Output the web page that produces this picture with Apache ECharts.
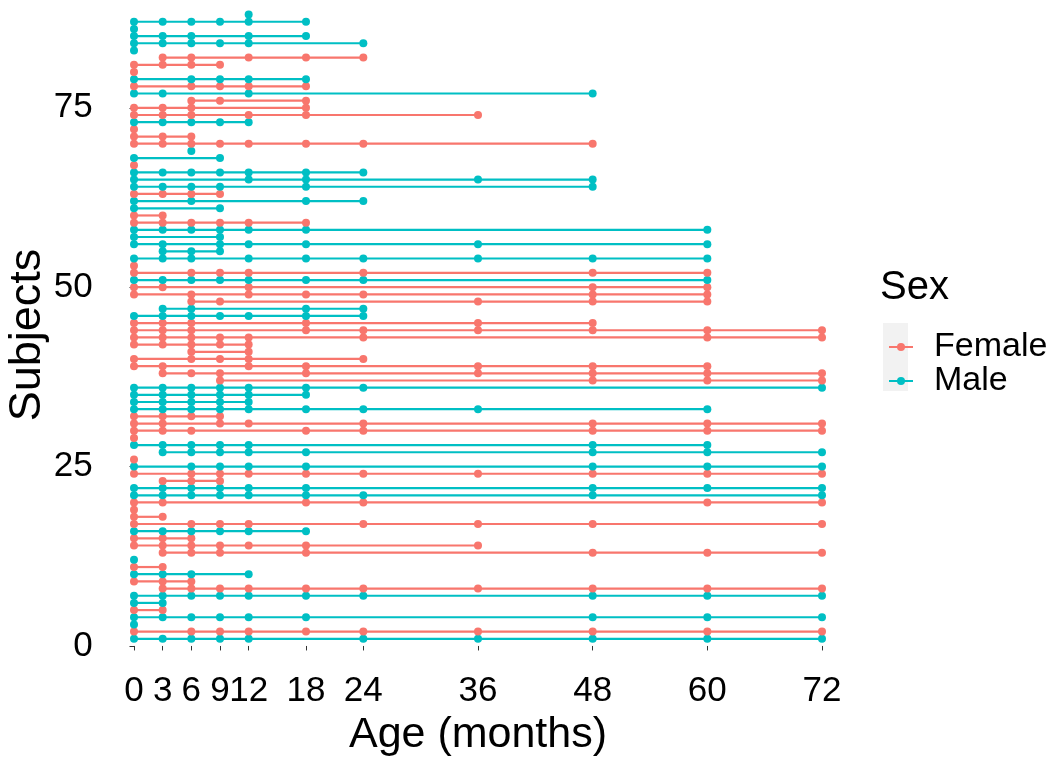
<!DOCTYPE html>
<html><head><meta charset="utf-8">
<script src="https://cdn.jsdelivr.net/npm/echarts@6/dist/echarts.min.js"></script>
<style>html,body{margin:0;padding:0;background:#fff}#c{width:1050px;height:767px}</style>
</head><body><div id="c"></div>
<script>
const xTicks = [0, 3, 6, 9, 12, 18, 24, 36, 48, 60, 72];
const yTicks = [0, 25, 50, 75];
const sexLevels = ['Female', 'Male'];
const sexColors = ['#F8766D', '#00BFC4'];
// subject 1..88
const subjectSex = [
 'Male','Female','Male','Male','Female','Male','Male','Female','Female','Male',
 'Female','Male','Female','Female','Female','Male','Female','Female','Female','Female',
 'Male','Male','Female','Female','Male','Female','Male','Male','Female','Female',
 'Female','Female','Male','Male','Male','Male','Female','Female','Female','Female',
 'Female','Female','Female','Female','Female','Male','Male','Female','Female','Female',
 'Male','Female','Female','Male','Male','Male','Male','Male','Female','Female',
 'Male','Male','Female','Male','Male','Male','Female','Male','Male','Female',
 'Female','Female','Male','Female','Female','Female','Male','Female','Male','Female',
 'Female','Female','Male','Male','Male','Male','Male','Male'
];
const visitAges = [
 [0,3,6,9,12,24,36,48,60,72],      // 1
 [0,6,9,12,18,24,36,48,60,72],     // 2
 [0],                              // 3
 [0,3,6,9,12,18,48,60,72],         // 4
 [0,3],                            // 5
 [0,3],                            // 6
 [0,3,6,9,12,18,24,48,60,72],      // 7
 [3,6,9,12,18,24,36,48,60,72],     // 8
 [0,3,6],                          // 9
 [0,3,6,12],                       // 10
 [0,3],                            // 11
 [0],                              // 12
 [3,6,9,18,48,60,72],              // 13
 [0,3,6,9,12,18,36],               // 14
 [0,3,6],                          // 15
 [0,3,6,9,12,18],                  // 16
 [0,6,9,12,24,36,48,72],           // 17
 [0,3],                            // 18
 [0],                              // 19
 [0,3,18,24,60,72],                // 20
 [0,3,6,9,12,18,24,48,72],         // 21
 [0,3,6,9,12,18,48,60,72],         // 22
 [3,6,9],                          // 23
 [0,6,9,12,18,24,36,48,60,72],     // 24
 [0,6,9,12,18,48,60,72],           // 25
 [0],                              // 26
 [3,6,9,12,18,48,60,72],           // 27
 [0,3,6,9,12,48,60],               // 28
 [0],                              // 29
 [0,3,6,18,24,48,60,72],           // 30
 [0,3,9,12,24,48,60,72],           // 31
 [0,3,6,9],                        // 32
 [0,3,6,9,12,18,24,36,60],         // 33
 [0,3,6,9,12],                     // 34
 [0,3,6,9,12,18],                  // 35
 [0,3,6,9,12,18,24,72],            // 36
 [9,48,60,72],                     // 37
 [3,6,9,18,36,48,60,72],           // 38
 [0,3,12,18,36,48,60],             // 39
 [0,6,9,12,24],                    // 40
 [6,12],                           // 41
 [0,3,6,9,12],                     // 42
 [0,3,6,9,12,24,60,72],            // 43
 [0,3,6,18,24,36,48,60,72],        // 44
 [0,3,6,18,36,48],                 // 45
 [0,3,6,9,12,18,24],               // 46
 [3,6,18,24],                      // 47
 [6,9,36,48,60],                   // 48
 [0,6,12,18,24,48,60],             // 49
 [0,3,12,48,60],                   // 50
 [0,3,6,9,12,18,24,60],            // 51
 [0,6,9,12,24,48,60],              // 52
 [0],                              // 53
 [0,3,6,12,18,24,36,48,60],        // 54
 [3,6,9],                          // 55
 [0,3,9,12,18,36,60],              // 56
 [0,9],                            // 57
 [0,3,6,9,12,18,60],               // 58
 [0,3,6,9,12,18],                  // 59
 [0,3],                            // 60
 [0,9],                            // 61
 [0,6,18,24],                      // 62
 [0,3,6,9],                        // 63
 [0,3,6,9,18,48],                  // 64
 [0,12,18,36,48],                  // 65
 [0,3,6,9,12,18,24],               // 66
 [0],                              // 67
 [0,9],                            // 68
 [6],                              // 69
 [0,3,6,9,12,18,24,48],            // 70
 [0,3,6],                          // 71
 [0],                              // 72
 [0,3,6,9,12],                     // 73
 [0,3,6,12,18,36],                 // 74
 [0,3,6,18],                       // 75
 [6,9,18],                         // 76
 [0,3,12,48],                      // 77
 [0,6,9,12,18],                    // 78
 [0,6,9,12,18],                    // 79
 [0],                              // 80
 [0,3,6,9],                        // 81
 [3,6,12,18,24],                   // 82
 [0],                              // 83
 [0,3,6,9,12,24],                  // 84
 [0,3,6,12,18],                    // 85
 [0],                              // 86
 [0,3,6,9,12,18],                  // 87
 [12]                              // 88
];

const FONT = "'Liberation Sans', Arial, sans-serif";
const colorOf = s => sexColors[sexLevels.indexOf(s)];

const series = visitAges.map((ages, i) => {
  const c = colorOf(subjectSex[i]);
  return {
    type: 'line',
    name: subjectSex[i],
    data: ages.map(a => [a, i + 1]),
    symbol: 'circle',
    symbolSize: 8,
    showSymbol: true,
    lineStyle: { width: 2.2, color: c },
    itemStyle: { color: c },
    emphasis: { disabled: true },
    silent: true
  };
});

const chart = echarts.init(document.getElementById('c'), null, { renderer: 'canvas' });
chart.setOption({
  animation: false,
  backgroundColor: '#ffffff',
  color: sexColors,
  grid: { left: 99.6, width: 756.8, top: 0, bottom: 97, containLabel: false, outerBoundsMode: 'none' },
  xAxis: {
    type: 'value', min: -3.6, max: 75.6,
    splitLine: { show: false },
    axisLine: { show: false },
    axisTick: { show: true, length: 4.5, lineStyle: { color: '#333', width: 1 }, customValues: xTicks },
    axisLabel: { customValues: xTicks, color: '#000', fontSize: 35, fontFamily: FONT, margin: 4 },
    name: 'Age (months)', nameLocation: 'middle', nameGap: 44, nameMoveOverlap: false,
    nameTextStyle: { color: '#000', fontSize: 43, fontFamily: FONT }
  },
  yAxis: {
    type: 'value', min: -3.35, max: 90.03,
    splitLine: { show: false },
    axisLine: { show: false },
    axisTick: { show: true, length: 4.5, lineStyle: { color: '#333', width: 1 }, customValues: yTicks },
    axisLabel: { customValues: yTicks, color: '#000', fontSize: 35, fontFamily: FONT, margin: 7 },
    name: 'Subjects', nameLocation: 'middle', nameGap: 50, nameRotate: 90, nameMoveOverlap: false,
    nameTextStyle: { color: '#000', fontSize: 45, fontFamily: FONT }
  },
  legend: {
    data: sexLevels,
    orient: 'vertical',
    left: 883, top: 325,
    itemWidth: 24, itemHeight: 10, itemGap: 0,
    selectedMode: false,
    textStyle: { fontSize: 34, fontFamily: FONT, color: '#000', lineHeight: 33, padding: [0, 0, 0, 16] }
  },
  graphic: {
    elements: [
      { type: 'rect', left: 883, top: 323, z: -10, shape: { width: 25, height: 68 }, style: { fill: '#F2F2F2' } },
      { type: 'text', left: 880, top: 268, style: { text: 'Sex', font: '40px ' + FONT, fill: '#000' } }
    ]
  },
  series: series
});
</script></body></html>
